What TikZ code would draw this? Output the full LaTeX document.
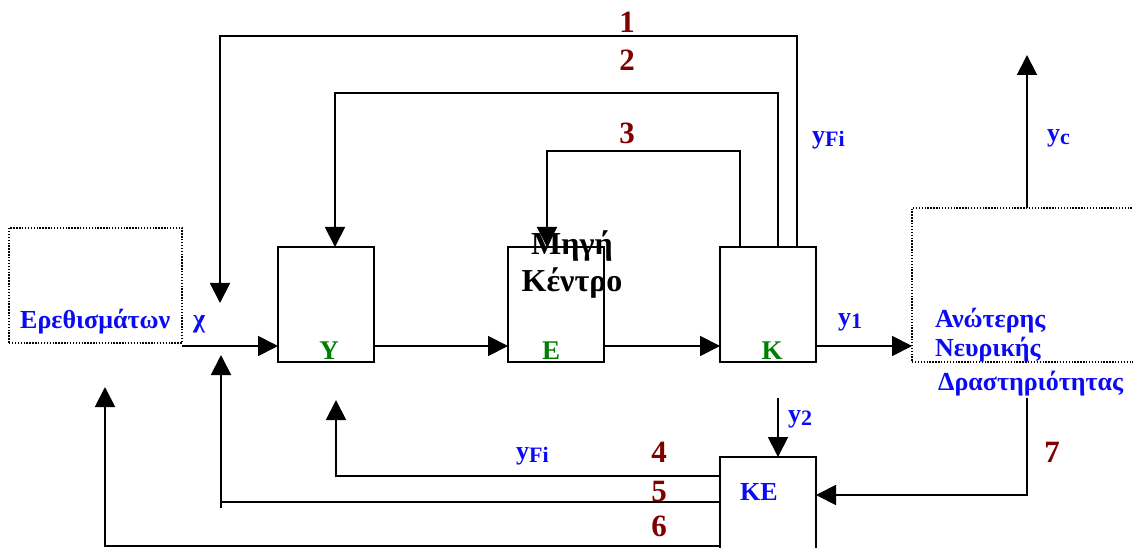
\documentclass[tikz,border=0pt]{standalone}
\usepackage{fontspec}
\setmainfont{Liberation Serif}
\usetikzlibrary{arrows.meta,positioning}
\definecolor{signalblue}{RGB}{10,10,245}
\definecolor{blockgreen}{RGB}{0,128,0}
\definecolor{pathred}{RGB}{128,0,0}
\newcommand{\lowsub}[1]{\raisebox{-3pt}{\fontsize{22}{22}\selectfont #1}}
\tikzset{
 blockbox/.style={
 rectangle,
 draw=black,
 line width=1.9pt,
 minimum width=96pt,
 minimum height=115pt,
 inner sep=0pt,
 outer sep=0pt
 },
 outerbox/.style={
 rectangle,
 draw=black,
 line width=1.4pt,
 dash pattern=on 1.4pt off 1.5pt,
 inner sep=0pt,
 outer sep=0pt
 },
 blocklabel/.style={text=blockgreen, anchor=base, inner sep=0pt, font=\fontsize{27}{27}\selectfont\bfseries},
 signal/.style={text=signalblue, anchor=base west, inner sep=0pt, font=\fontsize{26}{29}\selectfont\bfseries},
 pathnum/.style={text=pathred, inner sep=0pt, font=\fontsize{31}{31}\selectfont\bfseries},
 flowline/.style={line width=1.9pt, draw=black},
 flowarrow/.style={-{Triangle[length=20pt,width=20pt]}, line width=1.9pt, draw=black}
}

\begin{document}
\begin{tikzpicture}[x=1pt, y=-1pt]
	\useasboundingbox (0,0) rectangle (1133,548);
	\clip (0,0) rectangle (1133,548);

	\node[outerbox, minimum width=173pt, minimum height=115pt] (stim) at (95.5,285.5) {};
	\node[blockbox] (Y) at (326,304.5) {};
	\node[blockbox, right=134pt of Y] (E) {};
	\node[blockbox, right=116pt of E] (K) {};
	\node[blockbox, minimum height=103pt, below=95pt of K] (KE) {};
	\node[outerbox, minimum width=233pt, minimum height=154pt] (upper) at (1028.5,285) {};

	\node[blocklabel, xshift=3pt, yshift=3pt] at (Y.south) {Y};
	\node[blocklabel, xshift=-5pt, yshift=3pt] at (E.south) {E};
	\node[blocklabel, xshift=4pt, yshift=3pt] at (K.south) {K};
	\node[signal] (stimtext) at (20,328) {Ερεθισμάτων};
	\node[signal] (chi) at (193,327) {χ};
	\node[align=center, inner sep=0pt, font=\fontsize{32}{37}\selectfont\bfseries] (source) at (572,265) {Μηγή\\Κέντρο};
	\node[signal, align=left] (uppertext) at (935,390) {Ανώτερης\\Νευρικής\\[5pt]\hspace{3pt}Δραστηριότητας};
	\node[signal] (kelabel) at (740,500) {KE};

	\node[signal] (yfiup) at (812,144) {y\lowsub{Fi}};
	\node[signal] (yfidown) at (516,459) {y\lowsub{Fi}};
	\node[signal] (yone) at (838,325) {y\lowsub{1}};
	\node[signal] (ytwo) at (788,422) {y\lowsub{2}};
	\node[signal] (yc) at (1047,142) {y\lowsub{c}};

	\node[pathnum] (n1) at (627,22) {1};
	\node[pathnum] (n2) at (627,60) {2};
	\node[pathnum] (n3) at (627,133) {3};
	\node[pathnum] (n4) at (659,452) {4};
	\node[pathnum] (n5) at (659,491) {5};
	\node[pathnum] (n6) at (659,526) {6};
	\node[pathnum] (n7) at (1052,452) {7};

	\coordinate (main) at (0,346);
	\coordinate (tip1) at (220,303);
	\coordinate (tip4) at (336,400);
	\coordinate (tip5) at (221,355);
	\coordinate (tip6) at (105,387);
	\coordinate (out) at (1027,55);
	\coordinate (from7) at (1027,398);
	\coordinate (from2) at (778,398);

	\draw[flowarrow] (stim.east |- main) -- (Y.west |- main);
	\draw[flowarrow] (Y.east |- main) -- (E.west |- main);
	\draw[flowarrow] (E.east |- main) -- (K.west |- main);
	\draw[flowarrow] (K.east |- main) -- (upper.west |- main);
	\draw[flowarrow] (upper.north -| out) -- (out);

	\draw[flowarrow] ([xshift=29pt]K.north) |- (tip1 |- 0,36) -- (tip1);
	\draw[flowarrow] ([xshift=10pt]K.north) |- (335,93) -- ([xshift=9pt]Y.north);
	\draw[flowarrow] ([xshift=-28pt]K.north) |- (547,151) -- ([xshift=-9pt]E.north);

	\draw[flowarrow] (from2) -- (KE.north -| from2);
	\draw[flowarrow] (KE.west |- 0,476) -| (tip4);
	\draw[flowline] (KE.west |- 0,502) -- (tip5 |- 0,502);
	\draw[flowarrow] (tip5 |- 0,508) -- (tip5);
	\draw[flowarrow] (KE.west |- 0,546) -| (tip6);
	\draw[flowarrow] (from7) |- (KE.east |- 0,495);
\end{tikzpicture}
\end{document}
